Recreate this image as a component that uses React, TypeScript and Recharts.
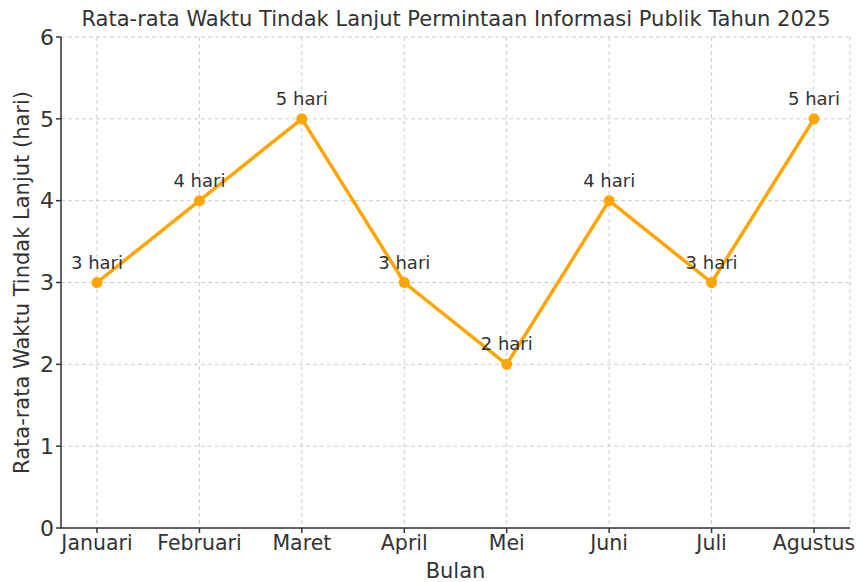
import * as React from 'react';
import { CartesianGrid, LabelList, Line, LineChart, XAxis, YAxis } from 'recharts';

const bulan = ['Januari', 'Februari', 'Maret', 'April', 'Mei', 'Juni', 'Juli', 'Agustus'];
const rataRataHari = [3, 4, 5, 3, 2, 4, 3, 5];
const yTicks = [0, 1, 2, 3, 4, 5, 6];

const data = bulan.map((b, i) => ({ bulan: b, hari: rataRataHari[i] }));

const font = 'DejaVu Sans, sans-serif';
const ink = '#333333';

export default function App() {
    return (
        <div style={{ position: 'absolute', left: 0, top: 0, fontFamily: font }}>
            <LineChart width={857} height={582} data={data}
                margin={{ top: 37, right: 7, left: 0, bottom: 0 }}>
                <text x={456} y={26} textAnchor="middle" fontSize={21} fill={ink} fontFamily={font}>
                    Rata-rata Waktu Tindak Lanjut Permintaan Informasi Publik Tahun 2025
                </text>
                <CartesianGrid stroke="#cccccc" strokeDasharray="4 3" />
                <XAxis dataKey="bulan" height={54} padding={{ left: 36, right: 36 }}
                    stroke={ink} strokeWidth={1.5} tickSize={5}
                    tick={{ fontSize: 20.5, fill: ink, fontFamily: font }}
                    label={{ value: 'Bulan', position: 'insideBottom', offset: 4, fontSize: 21, fill: ink, fontFamily: font }} />
                <YAxis width={61} domain={[0, 6]} ticks={yTicks} interval={0}
                    stroke={ink} strokeWidth={1.5} tickSize={5}
                    tick={{ fontSize: 22, fill: ink, fontFamily: font }}
                    label={{ value: 'Rata-rata Waktu Tindak Lanjut (hari)', angle: -90, position: 'insideLeft', offset: 22, style: { textAnchor: 'middle' }, fontSize: 21, fill: ink, fontFamily: font }} />
                <Line dataKey="hari" stroke="#FFA500" strokeWidth={3.5} isAnimationActive={false}
                    dot={{ r: 5.5, fill: '#FFA500', stroke: '#FFA500', strokeWidth: 0 }}>
                    <LabelList dataKey="hari" position="top" offset={14}
                        formatter={(v: any) => `${v} hari`}
                        style={{ fontSize: 18, fill: ink, fontFamily: font }} />
                </Line>
            </LineChart>
        </div>
    );
}
